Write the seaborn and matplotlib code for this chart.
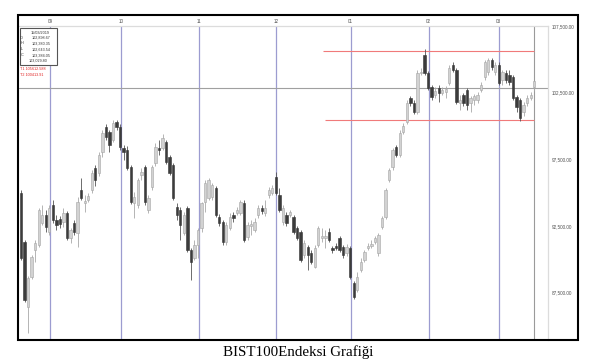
import numpy as np
import pandas as pd
import matplotlib
matplotlib.use("Agg")
import matplotlib.pyplot as plt
import seaborn as sns
from matplotlib.patches import Rectangle
from matplotlib.ticker import FuncFormatter

# ---------------- data ----------------
opens = [94977, 91302, 86427, 88677, 90702, 91077, 92727, 93327, 92052, 94077,
         92952, 93027, 92802, 93477, 91602, 92727, 91977, 95202, 94227, 94452,
         95202, 96852, 96477, 98052, 99927, 99552, 98952, 100302, 99927, 98352,
         98202, 96927, 94227, 94077, 96327, 96927, 93702, 95427, 97227, 98352,
         98352, 98802, 97677, 97077, 93927, 93702, 91977, 93852, 90702, 90102,
         91077, 92352, 94302, 94602, 94677, 95352, 93177, 92802, 91302, 92352,
         93327, 93477, 93477, 94227, 91677, 92502, 92202, 93327, 93852, 93477,
         94827, 94977, 96177, 94827, 92802, 93327, 93327, 93177, 92352, 92052,
         90327, 90927, 90477, 89427, 91077, 91602, 91602, 92052, 90852, 91002,
         91602, 90927, 90477, 90852, 88227, 87702, 89202, 89952, 90852, 91002,
         91302, 90477, 92427, 93177, 95952, 96927, 98427, 97827, 99552, 100302,
         102102, 101727, 101052, 103977, 105327, 103977, 102927, 102327, 102852, 102477,
         102552, 103227, 104577, 104202, 101727, 102327, 102702, 101727, 101952, 101952,
         102702, 103677, 104052, 104952, 104052, 104577, 103452, 103977, 103827, 103677,
         102177, 101952, 101052, 101727, 102102, 102898.67]
highs = [95202, 91452, 88752, 90327, 91452, 93852, 94077, 93702, 94077, 94452,
         93327, 93252, 93852, 93627, 92352, 92952, 94677, 96102, 94827, 94977,
         96702, 97077, 98052, 99702, 100152, 99702, 100452, 100452, 100152, 98577,
         98502, 97077, 95052, 96102, 96852, 97077, 94827, 97077, 98727, 98952,
         99402, 98952, 97827, 97227, 94227, 93927, 93552, 94002, 90852, 91452,
         92352, 94302, 95952, 96102, 95727, 95502, 93402, 92952, 92802, 93477,
         93552, 93927, 94452, 94452, 92802, 92952, 93102, 94077, 94077, 94452,
         95427, 95577, 96552, 95352, 94077, 93552, 93702, 93327, 92502, 92202,
         91452, 91077, 90702, 91077, 92502, 92352, 92202, 92352, 91002, 91227,
         91752, 91077, 91152, 91002, 88377, 89052, 90102, 90702, 91227, 91452,
         91752, 91977, 93252, 95352, 96852, 98352, 98577, 99702, 100227, 101952,
         102252, 101952, 104202, 104352, 105777, 104127, 103077, 102927, 103077, 102927,
         103002, 104577, 104802, 104352, 102327, 102477, 102852, 102252, 102402, 102552,
         103302, 104952, 105102, 105102, 104802, 104802, 104202, 104202, 104202, 103827,
         102327, 102102, 101802, 102327, 102552, 103390.35]
lows = [89952, 86802, 84477, 88527, 89802, 90927, 92577, 92052, 91827, 92727,
        92202, 92352, 92427, 91452, 91227, 91827, 90927, 94452, 93552, 94302,
        94977, 95502, 96252, 97677, 98952, 98052, 98802, 99702, 98202, 97452,
        96702, 94152, 93102, 93852, 95952, 94077, 93477, 95202, 97002, 97827,
        98202, 97152, 96327, 94452, 92952, 91452, 91827, 90552, 88452, 89952,
        90102, 92052, 93552, 94452, 94452, 93177, 92502, 91077, 91077, 92202,
        92802, 93327, 93327, 91302, 91452, 91827, 92052, 93102, 93402, 93252,
        94602, 94827, 94827, 93552, 92577, 92502, 93177, 91902, 91452, 89802,
        90102, 89202, 89652, 89352, 90927, 91302, 90852, 91302, 90477, 90702,
        90552, 90102, 90252, 88527, 87027, 87552, 89052, 89802, 90702, 90852,
        91152, 90252, 92277, 93027, 95802, 96702, 97677, 97677, 99402, 100152,
        101502, 100902, 100902, 103827, 103827, 102702, 101952, 102102, 101802, 102327,
        102102, 103077, 104052, 101652, 101202, 101502, 101202, 101052, 101577, 101727,
        102552, 103452, 103827, 104202, 103827, 103077, 103077, 103227, 103077, 101952,
        101052, 100377, 100752, 101502, 101952, 102643.54]
closes = [90102, 86952, 88602, 90177, 91227, 93702, 93327, 92427, 93852, 92952,
          92577, 92652, 93477, 91602, 92202, 92052, 94302, 94602, 94377, 94752,
          96477, 95952, 97827, 99477, 99177, 98577, 100227, 99927, 98427, 98052,
          96852, 94302, 94677, 95952, 96552, 94302, 94602, 96927, 98427, 98202,
          99102, 97302, 96477, 94602, 93327, 92577, 93327, 90702, 89802, 91077,
          92202, 94227, 95727, 95952, 95577, 93327, 92727, 91302, 92577, 93177,
          93102, 93702, 94302, 91452, 92577, 92652, 92802, 93852, 93627, 93852,
          95202, 95352, 94977, 93702, 93852, 92727, 93552, 92052, 91602, 89952,
          91227, 90327, 89802, 90852, 92352, 91752, 91752, 91452, 90702, 90852,
          90702, 90327, 90927, 88677, 87177, 88677, 89802, 90552, 91002, 91152,
          91602, 91827, 93102, 95202, 96702, 98202, 97827, 99477, 100002, 101727,
          101727, 101052, 103977, 104052, 103977, 102852, 102177, 102627, 102477, 102702,
          102777, 104352, 104202, 101802, 101952, 101727, 101577, 102102, 102252, 102327,
          103077, 104802, 104952, 104427, 104577, 103227, 104052, 103452, 103302, 102102,
          101427, 100602, 101577, 102102, 102327, 103384.05]

month_labels = ["09", "10", "11", "12", "01", "02", "03"]
month_pos = [8.2, 28.2, 50.3, 72.0, 93.1, 115.2, 135.0]   # candle index of month start
y_ticks = [87500, 92500, 97500, 102500, 107500]

t1_level = 105612.588
t2_level = 100413.91
t_start = [85.3, 85.9]
current_level = 102880

info_date = "15/03/2019"
info_rows = [("O", "102,898.67"), ("H", "103,380.35"), ("L", "102,643.54"), ("C", "103,384.05")]
info_last = "103,029.80"
t_labels = ["T1 105612.588", "T2 100413.91"]
caption = "BIST100Endeksi Grafiği"

# ---------------- figure ----------------
sns.set_theme(style="white")
plt.rcParams["font.family"] = ["Liberation Sans", "DejaVu Sans"]

W, H = 591, 362
fig = plt.figure(figsize=(W / 100, H / 100), dpi=100)
fig.patch.set_facecolor("white")

def fx(px):
    return px / W

def fy(py):
    return 1 - py / H

ax = fig.add_axes([fx(19), fy(340), fx(547.7) - fx(19), fy(26) - fy(340)])
ax.set_facecolor("white")

df = pd.DataFrame({"o": opens, "h": highs, "l": lows, "c": closes})
df["i"] = np.arange(len(df))
df["up"] = df["c"] >= df["o"]

# month separators
for p in month_pos:
    ax.axvline(p, color="#9c9cd0", lw=0.9, zorder=1)

# current-price cursor
last_i = df["i"].iloc[-1]
ax.axvline(last_i, color="#9a9a9a", lw=0.8, zorder=1)
ax.axhline(current_level, color="#a0a0a0", lw=0.8, zorder=1)

# target lines
ax.hlines([t1_level, t2_level], t_start, last_i, colors="#f07a7a", lw=0.8, zorder=1)

# candles
styles = {True: dict(wick="#a8a8a8", fill="#d2d2d2", edge="#a5a5a5"),
          False: dict(wick="#555555", fill="#3c3c3c", edge="#333333")}
for up, sub in df.groupby("up"):
    st = styles[bool(up)]
    ax.vlines(sub["i"], sub["l"], sub["h"], colors=st["wick"], lw=0.6, zorder=2)
    body = (sub["c"] - sub["o"]).abs().clip(lower=45)
    bottom = np.minimum(sub["o"], sub["c"])
    ax.bar(sub["i"], body, bottom=bottom, width=0.66, color=st["fill"],
           edgecolor=st["edge"], linewidth=0.4, zorder=3)

ax.set_xlim(-0.56, 148.8)
ax.set_ylim(83950, 107500)

ax.yaxis.tick_right()
ax.set_yticks(y_ticks)
ax.yaxis.set_major_formatter(FuncFormatter(lambda v, p: f"{v:,.2f}"))
ax.tick_params(axis="y", length=0, pad=2.9, labelsize=3.3, labelcolor="#505050")

ax.xaxis.tick_top()
ax.set_xticks(month_pos)
ax.set_xticklabels(month_labels)
ax.tick_params(axis="x", length=0, pad=1.2, labelsize=3.3, labelcolor="#505050")
ax.grid(False)

for side in ["left", "bottom"]:
    ax.spines[side].set_visible(False)
for side in ["top", "right"]:
    ax.spines[side].set_color("#dcdcdc")
    ax.spines[side].set_linewidth(0.9)

# outer black frame
fig.add_artist(Rectangle((fx(18.3), fy(340)), fx(578) - fx(18.3), fy(15) - fy(340),
                         transform=fig.transFigure, fill=False, ec="black", lw=1.5, zorder=5))

# info box
fig.add_artist(Rectangle((fx(19.5), fy(65)), fx(57.3) - fx(19.5), fy(28) - fy(65),
                         transform=fig.transFigure, fc="white", ec="#555555", lw=0.8, zorder=4))
fs = 2.7
fig.text(fx(40), fy(32.7), info_date, ha="center", va="center", size=fs, color="#333333", zorder=6)
for k, (lab, val) in enumerate(info_rows):
    yy = fy(37.7 + k * 5.8)
    fig.text(fx(20.3), yy, lab, ha="left", va="center", size=fs, color="#333333", zorder=6)
    fig.text(fx(50.5), yy, val, ha="right", va="center", size=fs, color="#333333", zorder=6)
fig.text(fx(38.5), fy(61), info_last, ha="center", va="center", size=fs, color="#333333", zorder=6)
for k, t in enumerate(t_labels):
    fig.text(fx(19.5), fy(69.3 + k * 5.7), t, ha="left", va="center", size=fs, color="#e02020", zorder=6)

# caption
fig.text(fx(298), fy(352), caption, ha="center", va="center",
         family=["Liberation Serif", "DejaVu Serif"], size=10.8, color="black")

fig.savefig("out.png", dpi=100, facecolor="white")
